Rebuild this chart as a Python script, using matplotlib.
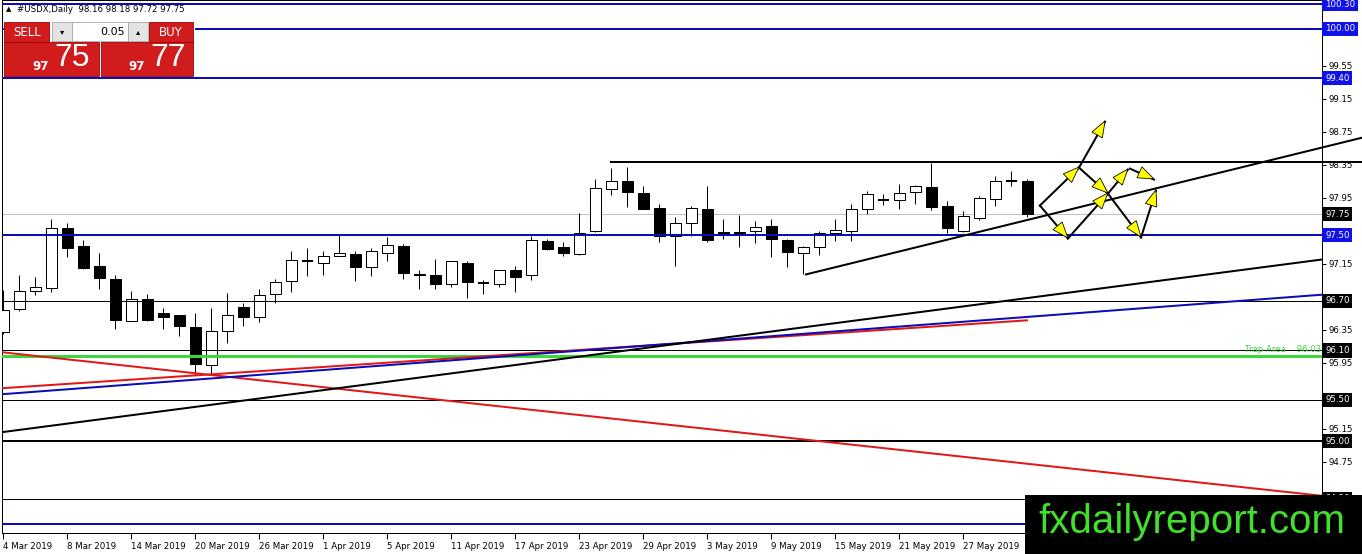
import numpy as np
import pandas as pd
import matplotlib
matplotlib.use("Agg")
import matplotlib.pyplot as plt
from matplotlib.patches import Rectangle, Polygon
from matplotlib.transforms import IdentityTransform, blended_transform_factory

plt.rcParams['font.family'] = ['DejaVu Sans']

W, H = 1362, 554

# ---------------- data ----------------
dates = pd.bdate_range("2019-03-04", "2019-05-31")
opens = [96.32, 96.60, 96.82, 96.86, 97.59, 97.37, 97.12, 96.97, 96.46, 96.72,
         96.55, 96.53, 96.39, 95.92, 96.34, 96.63, 96.50, 96.79, 96.94, 97.19,
         97.16, 97.24, 97.27, 97.11, 97.28, 97.37, 97.03, 97.01, 96.90, 97.16,
         96.92, 96.90, 97.07, 97.01, 97.43, 97.36, 97.27, 97.55, 98.06, 98.16,
         98.01, 97.83, 97.49, 97.64, 97.82, 97.54, 97.54, 97.55, 97.61, 97.44,
         97.28, 97.35, 97.52, 97.55, 97.81, 97.93, 97.93, 98.02, 98.08, 97.85,
         97.55, 97.71, 97.94, 98.15, 98.16]
highs = [96.83, 97.01, 96.99, 97.70, 97.64, 97.44, 97.28, 97.01, 96.82, 96.78,
         96.62, 96.53, 96.56, 96.62, 96.80, 96.67, 96.84, 96.97, 97.30, 97.34,
         97.30, 97.51, 97.31, 97.34, 97.47, 97.39, 97.07, 97.21, 97.18, 97.18,
         96.95, 97.08, 97.12, 97.49, 97.45, 97.41, 97.77, 98.18, 98.31, 98.33,
         98.10, 97.88, 97.72, 97.85, 98.09, 97.70, 97.74, 97.67, 97.70, 97.45,
         97.37, 97.55, 97.70, 97.87, 98.03, 98.00, 98.12, 98.11, 98.37, 97.91,
         97.79, 97.97, 98.21, 98.28, 98.18]
lows = [96.30, 96.58, 96.77, 96.81, 97.23, 97.09, 96.85, 96.36, 96.46, 96.46,
        96.36, 96.27, 95.80, 95.82, 96.19, 96.40, 96.44, 96.67, 96.81, 97.00,
        97.01, 97.24, 96.94, 97.00, 97.18, 96.97, 96.85, 96.84, 96.87, 96.74,
        96.78, 96.87, 96.81, 96.95, 97.32, 97.24, 97.26, 97.54, 97.98, 97.84,
        97.81, 97.42, 97.13, 97.49, 97.42, 97.45, 97.36, 97.40, 97.23, 97.11,
        97.03, 97.26, 97.43, 97.43, 97.76, 97.86, 97.81, 97.88, 97.80, 97.53,
        97.54, 97.68, 97.85, 98.09, 97.72]
closes = [96.59, 96.82, 96.87, 97.59, 97.34, 97.10, 96.98, 96.47, 96.72, 96.47,
          96.51, 96.40, 95.93, 96.33, 96.53, 96.51, 96.77, 96.93, 97.20, 97.18,
          97.24, 97.28, 97.11, 97.30, 97.38, 97.04, 97.01, 96.91, 97.18, 96.93,
          96.91, 97.07, 96.99, 97.44, 97.33, 97.28, 97.53, 98.07, 98.16, 98.02,
          97.82, 97.49, 97.64, 97.83, 97.44, 97.51, 97.52, 97.60, 97.45, 97.29,
          97.36, 97.52, 97.56, 97.81, 98.00, 97.93, 98.01, 98.10, 97.84, 97.59,
          97.73, 97.95, 98.16, 98.14, 97.75]

x_tick_idx = [0, 4, 8, 12, 16, 20, 24, 28, 32, 36, 40, 44, 48, 52, 56, 60]
x_tick_labels = ["4 Mar 2019", "8 Mar 2019", "14 Mar 2019", "20 Mar 2019",
                 "26 Mar 2019", "1 Apr 2019", "5 Apr 2019", "11 Apr 2019",
                 "17 Apr 2019", "23 Apr 2019", "29 Apr 2019", "3 May 2019",
                 "9 May 2019", "15 May 2019", "21 May 2019", "27 May 2019"]
y_ticks = [94.35, 94.75, 95.15, 95.55, 95.95, 96.35, 96.75, 97.15, 97.55,
           97.95, 98.35, 98.75, 99.15, 99.55, 99.95, 100.35]
y_tick_hidden = [94.35, 95.55, 96.75, 97.55, 100.35]

blue_levels = [100.30, 100.00, 99.40, 97.50, 94.00]
black_thin_levels = [96.70, 96.10, 95.50, 94.30]
black_thick_levels = [95.00]
bid_level = 97.75
trap_level = 96.03
resist_level = 98.38
resist_start = 38.0

blue_boxes = [100.30, 100.00, 99.40, 97.50]
black_boxes = [97.75, 96.70, 96.10, 95.50, 95.00, 94.30]

# trendlines: (bar index, price) endpoints
tl_black_long = [(-0.08, 95.109), (82.42, 97.203)]
tl_blue = [(-0.08, 95.569), (82.42, 96.776)]
tl_red_up = [(-0.08, 95.642), (63.98, 96.465)]
tl_red_down = [(-0.21, 96.081), (82.42, 94.337)]
tl_support = [(50.17, 97.022), (84.92, 98.680)]

# scenario arrows (bar index, price)
A = (64.79, 97.857); B = (66.54, 97.458); G = (69.04, 98.002)
D = (67.23, 98.317); F = (68.86, 98.874); Hh = (70.29, 98.293)
I = (70.42, 98.305); J = (71.92, 98.172); K = (71.11, 97.470)
L = (72.04, 98.039)
arrows = [(A, B), (B, G), (A, D), (D, F), (D, G), (G, Hh), (I, J), (G, K), (K, L)]

# ---------------- figure ----------------
BLUE = '#0c0cb4'
BLUEBOX = '#1010e8'
RED = '#e01818'
GREEN = '#3ad63a'
PX = 0.72  # 1 px in points
FS = 6.2

fig = plt.figure(figsize=(W / 100, H / 100), dpi=100)
fig.patch.set_facecolor('white')
ax = fig.add_axes([2 / W, 21 / H, 1320 / W, 533 / H])
ax.set_xlim(-0.081, 82.42)
ax.set_ylim(93.886, 100.339)
for s in ax.spines.values():
    s.set_color('black')
    s.set_linewidth(1.0 * PX)

# candles
body_w = 0.66
for i, (o, h, l, c) in enumerate(zip(opens, highs, lows, closes)):
    ax.plot([i, i], [l, h], color='black', lw=1.0 * PX, zorder=3,
            solid_capstyle='butt')
    lo, hi = min(o, c), max(o, c)
    if hi - lo < 0.015:
        ax.plot([i - body_w / 2, i + body_w / 2], [o, o], color='black',
                lw=2 * PX, zorder=4, solid_capstyle='butt')
    else:
        ax.add_patch(Rectangle((i - body_w / 2, lo), body_w, hi - lo,
                               facecolor='white' if c > o else 'black',
                               edgecolor='black', lw=1.0 * PX, zorder=4))

# horizontal levels
ax.axhline(bid_level, color='#c0c0c0', lw=1 * PX, zorder=2)
for v in blue_levels:
    ax.axhline(v, color=BLUE, lw=2 * PX, zorder=5)
for v in black_thin_levels:
    ax.axhline(v, color='black', lw=1 * PX, zorder=5)
for v in black_thick_levels:
    ax.axhline(v, color='black', lw=2 * PX, zorder=5)
ax.axhline(trap_level, color=GREEN, lw=3 * PX, zorder=5)
ax.plot([resist_start, 84.92], [resist_level, resist_level], color='black',
        lw=2 * PX, zorder=6, clip_on=False)

# trendlines
for pts, col in [(tl_red_down, RED), (tl_red_up, RED), (tl_blue, BLUE),
                 (tl_black_long, 'black')]:
    ax.plot([p[0] for p in pts], [p[1] for p in pts], color=col, lw=2 * PX,
            zorder=5)
ax.plot([p[0] for p in tl_support], [p[1] for p in tl_support], color='black',
        lw=2 * PX, zorder=6, clip_on=False)

# arrows
for p0, p1 in arrows:
    ax.plot([p0[0], p1[0]], [p0[1], p1[1]], color='black', lw=2 * PX, zorder=6)
for p0, p1 in arrows:
    d0 = ax.transData.transform(p0)
    d1 = ax.transData.transform(p1)
    u = (d1 - d0) / np.linalg.norm(d1 - d0)
    n = np.array([-u[1], u[0]])
    base = d1 - u * 16
    verts = [d1, base + n * 6, base - n * 6]
    fig.add_artist(Polygon(verts, closed=True, transform=IdentityTransform(),
                           facecolor='#ffff00', edgecolor='black',
                           lw=0.8 * PX, zorder=8))

# axes ticks
ax.yaxis.tick_right()
ax.set_yticks(y_ticks)
ax.set_yticklabels(["" if v in y_tick_hidden else f"{v:.2f}" for v in y_ticks])
ax.tick_params(axis='y', direction='out', length=3, width=1 * PX, pad=2,
               labelsize=FS, colors='black')
ax.set_xticks(x_tick_idx)
ax.set_xticklabels(x_tick_labels, ha='left')
ax.tick_params(axis='x', direction='out', length=4, width=1 * PX, pad=2.5,
               labelsize=FS, colors='black')

trans = blended_transform_factory(ax.transAxes, ax.transData)
for v in blue_boxes:
    ax.text(1.0 + 3 / 1320, v, f"{v:.2f}", transform=trans, ha='left',
            va='center', fontsize=FS, color='white', clip_on=False, zorder=10,
            bbox=dict(boxstyle='square,pad=0.3', fc=BLUEBOX, ec='none'))
for v in black_boxes:
    ax.text(1.0 + 3 / 1320, v, f"{v:.2f}", transform=trans, ha='left',
            va='center', fontsize=FS, color='white', clip_on=False, zorder=10,
            bbox=dict(boxstyle='square,pad=0.3', fc='black', ec='none'))
ax.text(1.0 - 1 / 1320, trap_level + 0.03, f"Trap Area    {trap_level:.2f}",
        transform=trans, ha='right', va='bottom', fontsize=FS, color=GREEN,
        zorder=7)

# ---------------- header / trade panel ----------------
def fx(x):
    return x / W


def fy(y):
    return 1 - y / H


def prect(x0, y0, x1, y1, **kw):
    fig.add_artist(Rectangle((fx(x0), fy(y1)), (x1 - x0) / W, (y1 - y0) / H,
                             transform=fig.transFigure, **kw))


fig.text(fx(5.5), fy(9), "\u25B2", fontsize=5, va='center', ha='left')
fig.text(fx(17), fy(9), "#USDX,Daily  98.16 98.18 97.72 97.75", fontsize=FS,
         va='center', ha='left')

PRED = '#d01c1c'
prect(3.5, 21, 195, 76.5, facecolor='white', edgecolor='none', zorder=11)
prect(4, 22, 49, 42, facecolor=PRED, edgecolor='#a00000', lw=0.6, zorder=12)
prect(149, 22, 193, 42, facecolor=PRED, edgecolor='#a00000', lw=0.6, zorder=12)
prect(4, 42, 99, 76, facecolor=PRED, edgecolor='#a00000', lw=0.6, zorder=12)
prect(101, 42, 193, 76, facecolor=PRED, edgecolor='#a00000', lw=0.6, zorder=12)
prect(52, 22, 72, 41, facecolor='#e4e4e4', edgecolor='#a8a8a8', lw=0.6, zorder=12)
prect(72, 22, 128, 41, facecolor='white', edgecolor='#a8a8a8', lw=0.6, zorder=12)
prect(128, 22, 148, 41, facecolor='#e4e4e4', edgecolor='#a8a8a8', lw=0.6, zorder=12)

fig.text(fx(27), fy(32), "SELL", color='white', fontsize=8.5, ha='center',
         va='center', zorder=13)
fig.text(fx(171), fy(32), "BUY", color='white', fontsize=8.5, ha='center',
         va='center', zorder=13)
fig.text(fx(62), fy(32), "\u25BE", color='black', fontsize=6, ha='center',
         va='center', zorder=13)
fig.text(fx(138), fy(32), "\u25B4", color='black', fontsize=6, ha='center',
         va='center', zorder=13)
fig.text(fx(125), fy(32), "0.05", color='black', fontsize=8, ha='right',
         va='center', zorder=13)
fig.text(fx(41), fy(66), "97", color='white', fontsize=8.5, fontweight='bold',
         ha='center', va='center', zorder=13)
fig.text(fx(72), fy(58), "75", color='white', fontsize=23,
         family='Liberation Sans', ha='center', va='center', zorder=13)
fig.text(fx(137), fy(66), "97", color='white', fontsize=8.5, fontweight='bold',
         ha='center', va='center', zorder=13)
fig.text(fx(168), fy(58), "77", color='white', fontsize=23,
         family='Liberation Sans', ha='center', va='center', zorder=13)

# ---------------- watermark ----------------
prect(1025, 495, 1362, 554, facecolor='black', edgecolor='none', zorder=20)
fig.text(fx(1192), fy(522), "fxdailyreport.com", color='#40e02c', fontsize=29,
         family='Liberation Sans', ha='center', va='center', zorder=21)

fig.savefig("out.png", dpi=100)
